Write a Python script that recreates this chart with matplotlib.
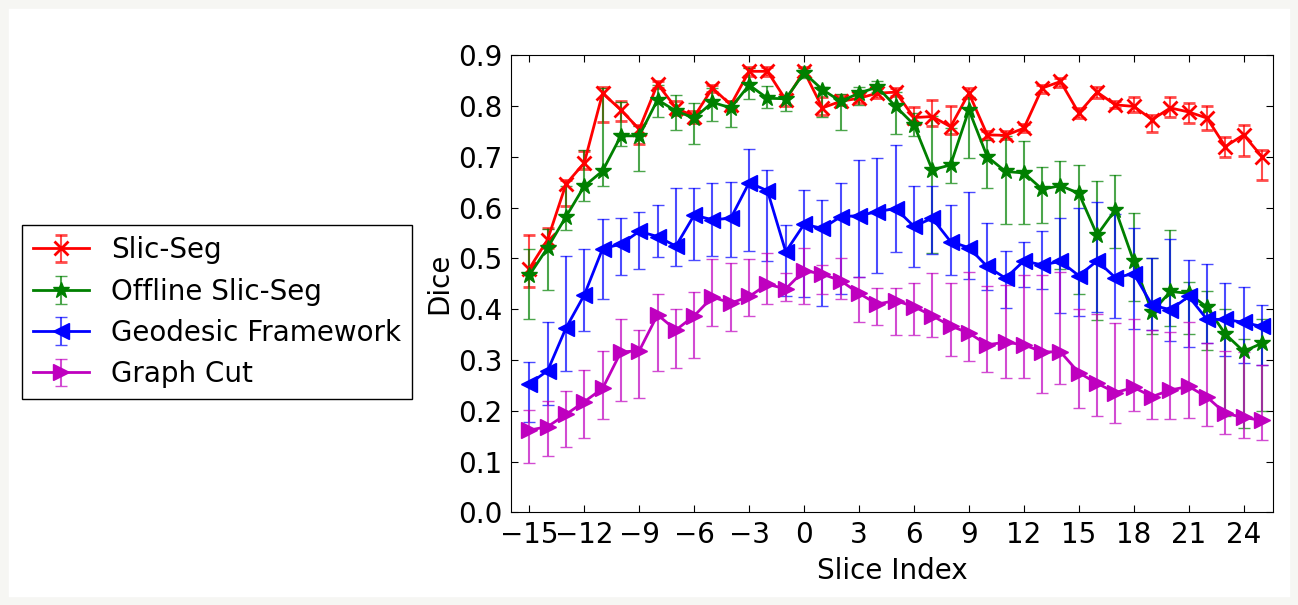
import numpy as np
import matplotlib
matplotlib.use("Agg")
import matplotlib.pyplot as plt
from matplotlib.colors import to_rgba

# slice index -15..25
slices = list(range(-15, 26))

# Slic-Seg
slic_val = [.480, .537, .646, .688, .825, .792, .754, .843, .796, .779, .835, .802, .868, .868, .812, .868,
            .796, .809, .815, .825, .827, .777, .779, .759, .825, .743, .742, .756, .835, .848, .786, .827,
            .802, .799, .773, .796, .788, .776, .720, .743, .700]
slic_lo = [.444, .520, .604, .675, .769, .770, .725, .835, .782, .766, .828, .795, .858, .858, .800, .858,
           .782, .802, .805, .815, .820, .765, .760, .745, .815, .735, .735, .748, .825, .838, .777, .815,
           .795, .788, .748, .779, .766, .753, .700, .702, .654]
slic_hi = [.546, .560, .655, .712, .838, .809, .762, .849, .809, .789, .841, .809, .877, .877, .820, .877,
           .818, .822, .822, .835, .835, .797, .812, .800, .835, .750, .750, .764, .842, .855, .795, .838,
           .810, .818, .783, .817, .805, .800, .738, .763, .713]

# Offline Slic-Seg
off_val = [.467, .521, .582, .642, .672, .741, .741, .812, .790, .776, .807, .796, .841, .815, .814, .865,
           .832, .809, .825, .837, .799, .763, .674, .684, .792, .700, .671, .668, .636, .643, .628, .546,
           .596, .494, .394, .435, .431, .404, .351, .317, .333]
off_lo = [.381, .437, .556, .612, .643, .722, .671, .779, .753, .725, .770, .759, .813, .795, .789, .855,
          .779, .753, .802, .827, .744, .740, .510, .649, .697, .639, .567, .567, .569, .480, .430, .378,
          .520, .417, .352, .366, .352, .320, .190, .166, .200]
off_hi = [.519, .558, .642, .714, .835, .807, .760, .841, .822, .805, .835, .809, .874, .840, .822, .875,
          .838, .823, .838, .849, .828, .786, .780, .756, .818, .733, .740, .731, .679, .691, .684, .653,
          .664, .589, .500, .555, .454, .435, .400, .341, .380]

# Geodesic Framework
geo_val = [.253, .279, .363, .428, .519, .528, .553, .543, .524, .585, .576, .579, .649, .633, .513, .567,
           .559, .582, .584, .592, .598, .563, .579, .533, .521, .484, .461, .495, .487, .494, .466, .495,
           .462, .470, .408, .399, .425, .380, .380, .374, .366]
geo_lo = [.179, .212, .279, .358, .420, .468, .479, .502, .484, .497, .504, .502, .515, .494, .426, .424,
          .406, .430, .464, .471, .513, .483, .509, .467, .460, .438, .402, .443, .440, .392, .386, .394,
          .382, .362, .359, .338, .326, .334, .307, .294, .290]
geo_hi = [.296, .374, .504, .518, .578, .580, .592, .605, .639, .639, .648, .651, .715, .674, .566, .635,
          .614, .648, .694, .698, .723, .643, .643, .605, .630, .569, .515, .532, .553, .580, .599, .611,
          .587, .560, .500, .538, .496, .489, .451, .444, .408]

# Graph Cut
gc_val = [.162, .169, .193, .218, .244, .316, .318, .389, .359, .387, .424, .412, .425, .449, .440, .476,
          .469, .456, .431, .410, .417, .405, .387, .367, .353, .330, .335, .330, .316, .316, .275, .254,
          .236, .246, .228, .241, .248, .227, .195, .187, .181]
gc_lo = [.098, .112, .129, .146, .183, .219, .225, .279, .284, .304, .366, .357, .387, .410, .417, .410,
         .430, .420, .374, .369, .350, .350, .346, .307, .299, .276, .264, .264, .236, .253, .205, .189,
         .177, .200, .183, .183, .185, .171, .154, .146, .142]
gc_hi = [.202, .220, .239, .280, .318, .380, .360, .430, .400, .433, .498, .490, .498, .511, .472, .521,
         .487, .501, .464, .441, .441, .452, .472, .451, .474, .445, .448, .468, .467, .474, .400, .390,
         .372, .380, .359, .355, .374, .334, .318, .316, .290]

labels = ["Slic-Seg", "Offline Slic-Seg", "Geodesic Framework", "Graph Cut"]
colors = ["#ff0000", "#008000", "#0000ff", "#bf00bf"]
markers = ["x", "*", "<", ">"]
msizes = [10, 12, 11, 11]

plt.rcParams["font.family"] = "DejaVu Sans"
plt.rcParams["font.size"] = 20
plt.rcParams["xtick.direction"] = "in"
plt.rcParams["ytick.direction"] = "in"
plt.rcParams["xtick.top"] = True
plt.rcParams["ytick.right"] = True
plt.rcParams["xtick.major.size"] = 5
plt.rcParams["ytick.major.size"] = 5
plt.rcParams["xtick.major.pad"] = 6
plt.rcParams["ytick.major.pad"] = 6

fig = plt.figure(figsize=(12.98, 6.05), dpi=100)
ax = fig.add_axes([0.3937, 0.1529, 0.5870, 0.7561])

series = [(slic_val, slic_lo, slic_hi), (off_val, off_lo, off_hi),
          (geo_val, geo_lo, geo_hi), (gc_val, gc_lo, gc_hi)]
x = np.array(slices)
handles = []
for (v, lo, hi), lab, c, m, ms in zip(series, labels, colors, markers, msizes):
    v = np.array(v); lo = np.array(lo); hi = np.array(hi)
    yerr = [np.clip(v - lo, 0, None), np.clip(hi - v, 0, None)]
    h = ax.errorbar(x, v, yerr=yerr, color=c, marker=m, markersize=ms,
                    markeredgewidth=2 if m == "x" else 1, markeredgecolor=c,
                    linewidth=2, ecolor=to_rgba(c, 0.7), elinewidth=1.5,
                    capsize=4.5, capthick=1.5, label=lab)
    handles.append(h)

ax.set_xlim(-16, 25.6)
ax.set_ylim(0, 0.9)
ax.set_xticks(range(-15, 25, 3))
ax.set_yticks(np.arange(0, 0.91, 0.1))
ax.set_yticklabels(["%.1f" % t for t in np.arange(0, 0.91, 0.1)])
ax.set_xlabel("Slice Index", labelpad=6)
ax.set_ylabel("Dice")

leg = fig.legend(handles, labels, loc="center right", bbox_to_anchor=(0.3175, 0.484),
                 borderaxespad=0, fancybox=False, framealpha=1, edgecolor="black",
                 fontsize=20, handlelength=2.0, labelspacing=0.48)
leg.get_frame().set_linewidth(1.0)

# light off-white border like the reference screenshot
fig.patches.append(plt.Rectangle((0, 0), 1, 1, transform=fig.transFigure, fill=False,
                                 edgecolor="#f6f6f3", linewidth=12, zorder=-1))

fig.savefig("out.png", dpi=100, facecolor="white")
